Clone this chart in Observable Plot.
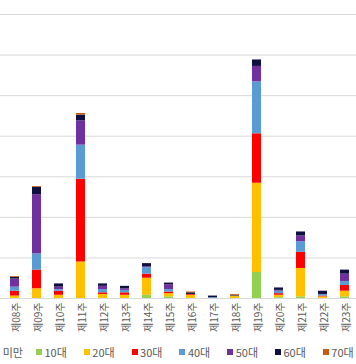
<!DOCTYPE html>
<html><head><meta charset="utf-8">
<script src="https://cdn.jsdelivr.net/npm/d3@7"></script>
<script src="https://cdn.jsdelivr.net/npm/@observablehq/plot@0.6"></script>
<style>
html,body{margin:0;padding:0;background:#fff;overflow:hidden;width:356px;height:364px;}
#wrap{position:relative;width:356px;height:364px;}
#legend{position:absolute;left:0;top:0;width:356px;height:364px;pointer-events:none;font-family:"Noto Sans CJK KR","Noto Sans",sans-serif;font-size:11px;color:#595959;}
.sw{position:absolute;width:6px;height:6px;}
.lt{position:absolute;white-space:nowrap;line-height:14px;}
</style></head>
<body><div id="wrap"><div id="chart"></div><div id="legend"></div></div>
<script>
const weeks = ["제08주","제09주","제10주","제11주","제12주","제13주","제14주","제15주","제16주","제17주","제18주","제19주","제20주","제21주","제22주","제23주"];
const ageGroups = ["10세 미만","10대","20대","30대","40대","50대","60대","70대"];
const ageColors = ["#A5A5A5","#92D050","#FFC000","#FF0000","#5B9BD5","#7030A0","#101040","#C55A11"];
const under10 = [0,0,0,0,0,0,0,0,0,0,0,0,0,0,0,0];
const teens    = [0,0,0,0,0,0,4,2,0,0,0,32,1,2,0,2];
const twenties = [3,12,4,45,5,4,21,4,4,0,3,110,3,35,2,7];
const thirties = [6,23,5,102,2,3,5,2,1,0,0,61,2,20,1,7];
const forties  = [5,20,2,42,4,3,8,3,0,1,0,64,3,13,2,5];
const fifties  = [10,73,3,30,4,2,1,6,0,0,0,19,1,7,0,9];
const sixties  = [2,9,4,7,3,3,4,2,2,2,1,8,3,5,4,5];
const seventies= [1,1,0,2,0,0,0,0,1,0,1,0,0,0,0,0];
const yTicks = [0,50,100,150,200,250,300,350];

const seriesList = [under10,teens,twenties,thirties,forties,fifties,sixties,seventies];
const rows = [];
weeks.forEach((w,i)=>{
  seriesList.forEach((s,k)=>{ rows.push({week:w, age:ageGroups[k], value:s[i]}); });
});

const chart = Plot.plot({
  width: 356, height: 340,
  marginLeft: 0, marginRight: 0, marginTop: 14, marginBottom: 42,
  style: {fontFamily: '"Noto Sans CJK KR","Noto Sans",sans-serif', fontSize: "10px", color: "#595959", background: "#fff", overflow: "hidden"},
  x: {type: "band", domain: weeks, range: [-0.25, 359.75], paddingInner: 0.6, paddingOuter: 0.3, label: null},
  y: {domain: [0, 350], label: null},
  color: {domain: ageGroups, range: ageColors},
  marks: [
    Plot.ruleY(yTicks, {stroke: "#d9d9d9", strokeWidth: 1}),
    Plot.barY(rows, {x: "week", y: "value", fill: "age", order: ageGroups}),
    Plot.axisX({tickRotate: -90, tickSize: 0, tickPadding: 4, fill: "#595959", fontSize: 10, dx: 2}),
    Plot.axisY({ticks: [], tickSize: 0, label: null})
  ]
});
document.getElementById("chart").appendChild(chart);

// legend
const leg = document.getElementById("legend");
ageGroups.forEach((g,i)=>{
  const sw = document.createElement("div");
  sw.className = "sw";
  sw.style.background = ageColors[i];
  sw.style.top = "348.5px";
  const t = document.createElement("div");
  t.className = "lt";
  t.textContent = g;
  t.style.top = "344.5px";
  if (i === 0) {
    t.style.right = (356 - 23) + "px";
    sw.style.left = "-40px";
  } else {
    const x0 = 36 + (i-1)*47.8;
    sw.style.left = x0 + "px";
    t.style.left = (x0 + 8.5) + "px";
  }
  leg.appendChild(sw); leg.appendChild(t);
});
</script>
</body></html>
